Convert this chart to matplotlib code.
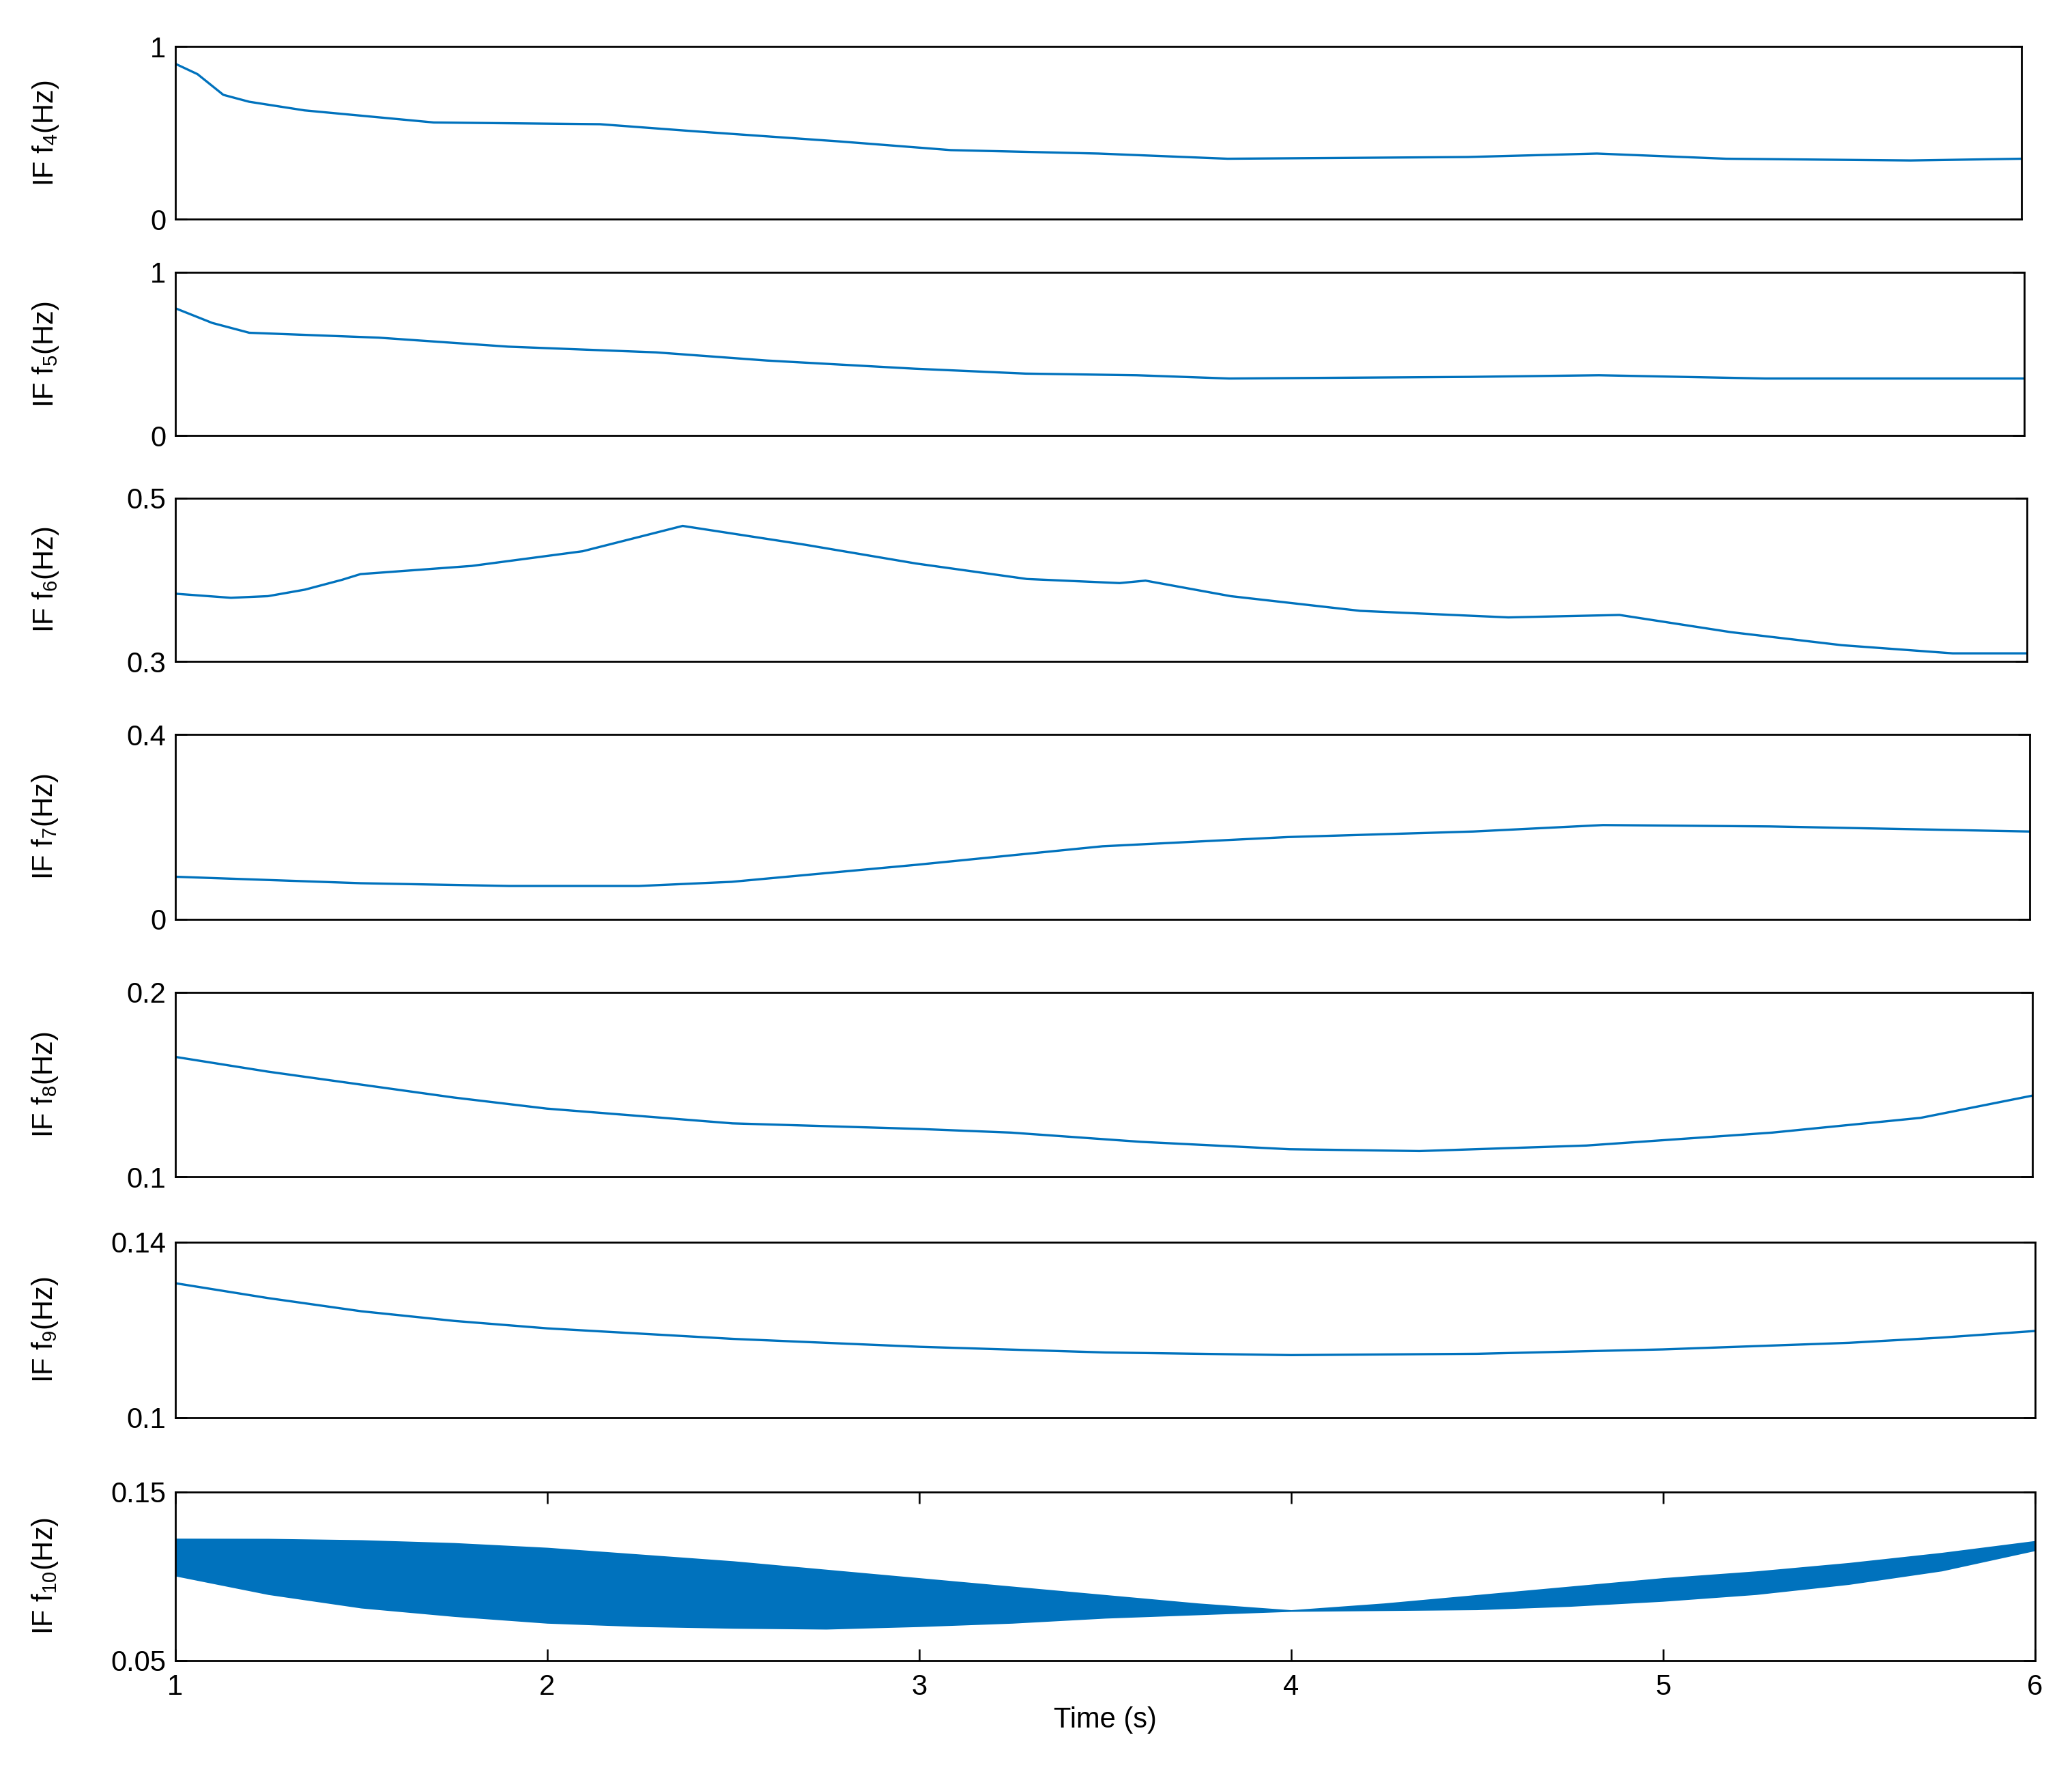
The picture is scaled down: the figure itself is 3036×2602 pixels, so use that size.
import numpy as np
import matplotlib.pyplot as plt

plt.rcParams['font.family'] = ['Liberation Sans', 'DejaVu Sans']
plt.rcParams['mathtext.fontset'] = 'custom'
plt.rcParams['mathtext.rm'] = 'Liberation Sans'
plt.rcParams['mathtext.it'] = 'Liberation Sans'

blue = '#0072BD'

t4 = [1, 1.06, 1.13, 1.2, 1.35, 1.55, 1.7, 2.15, 2.4, 2.8, 3.1, 3.5, 3.85, 4.5, 4.85, 5.2, 5.7, 6]
f4 = [0.90, 0.84, 0.72, 0.68, 0.63, 0.59, 0.56, 0.55, 0.51, 0.45, 0.40, 0.38, 0.35, 0.36, 0.38, 0.35, 0.34, 0.35]

t5 = [1, 1.1, 1.2, 1.55, 1.9, 2.3, 2.6, 3.0, 3.3, 3.6, 3.85, 4.5, 4.85, 5.3, 6]
f5 = [0.78, 0.69, 0.63, 0.60, 0.545, 0.51, 0.46, 0.41, 0.38, 0.37, 0.35, 0.36, 0.37, 0.35, 0.35]

t6 = [1, 1.15, 1.25, 1.35, 1.45, 1.5, 1.8, 2.1, 2.37, 2.7, 3.0, 3.3, 3.55, 3.62, 3.85, 4.2, 4.6, 4.9, 5.2, 5.5, 5.8, 6]
f6 = [0.383, 0.378, 0.380, 0.388, 0.400, 0.407, 0.417, 0.435, 0.466, 0.443, 0.420, 0.401, 0.396, 0.399,
      0.380, 0.362, 0.354, 0.357, 0.336, 0.320, 0.310, 0.310]

t7 = [1, 1.5, 1.9, 2.25, 2.5, 3.0, 3.5, 4.0, 4.5, 4.85, 5.3, 6]
f7 = [0.092, 0.078, 0.072, 0.072, 0.081, 0.118, 0.158, 0.178, 0.19, 0.204, 0.201, 0.19]

t8 = [1, 1.25, 1.5, 1.75, 2, 2.5, 3, 3.25, 3.6, 4.0, 4.35, 4.8, 5.3, 5.7, 6]
f8 = [0.165, 0.157, 0.150, 0.143, 0.137, 0.129, 0.126, 0.124, 0.119, 0.115, 0.114, 0.117, 0.124, 0.132, 0.144]

t9 = [1, 1.25, 1.5, 1.75, 2, 2.5, 3, 3.5, 4, 4.5, 5, 5.5, 5.75, 6]
f9 = [0.1306, 0.1272, 0.1242, 0.1220, 0.1203, 0.1179, 0.1161, 0.1148, 0.1142, 0.1145, 0.1155, 0.1170, 0.1182, 0.1197]

t10 = [1, 1.25, 1.5, 1.75, 2, 2.25, 2.5, 2.75, 3, 3.25, 3.5, 3.75, 4, 4.25, 4.5, 4.75, 5, 5.25, 5.5, 5.75, 6]
f10_hi = [0.1224, 0.1223, 0.1215, 0.1198, 0.117, 0.113, 0.109, 0.104, 0.099, 0.094, 0.089, 0.084, 0.080,
          0.084, 0.089, 0.094, 0.099, 0.103, 0.108, 0.114, 0.121]
f10_lo = [0.100, 0.089, 0.081, 0.076, 0.072, 0.070, 0.069, 0.0685, 0.070, 0.072, 0.075, 0.077, 0.079,
          0.0795, 0.080, 0.082, 0.085, 0.089, 0.095, 0.103, 0.115]

series = [(t4, f4, 4, (0, 1), 35, 165, 1522),
          (t5, f5, 5, (0, 1), 205, 328, 1524),
          (t6, f6, 6, (0.3, 0.5), 375, 498, 1526),
          (t7, f7, 7, (0, 0.4), 553, 692, 1528),
          (t8, f8, 8, (0.1, 0.2), 747, 886, 1530),
          (t9, f9, 9, (0.1, 0.14), 935, 1067, 1532),
          (t10, None, 10, (0.05, 0.15), 1123, 1250, 1532)]

W, H = 1560, 1337
fig = plt.figure(figsize=(30.36, 26.02), dpi=100)
for t, f, k, ylim, top, bot, right in series:
    ax = fig.add_axes([132 / W, 1 - bot / H, (right - 132) / W, (bot - top) / H])
    if f is None:
        ax.fill_between(t, f10_lo, f10_hi, color=blue, lw=0)
    else:
        ax.plot(t, f, color=blue, lw=2.4)
    ax.set_xlim(1, 6)
    ax.set_ylim(*ylim)
    ax.set_yticks(ylim)
    ax.set_yticklabels(['%g' % v for v in ylim])
    ax.set_ylabel(r'IF f$_{\mathregular{%d}}$(Hz)' % k, fontsize=30)
    ax.tick_params(labelsize=30, direction='in', length=12, width=1.8, right=True, pad=10)
    for s in ax.spines.values():
        s.set_linewidth(2)
    if k == 10:
        ax.set_xticks([1, 2, 3, 4, 5, 6])
        ax.tick_params(axis='x', top=True, pad=14)
        ax.set_xlabel('Time (s)', fontsize=30, labelpad=6)
    else:
        ax.set_xticks([])
    ax.yaxis.set_label_coords(-0.062, 0.5)

fig.savefig('out.png', dpi=100)
